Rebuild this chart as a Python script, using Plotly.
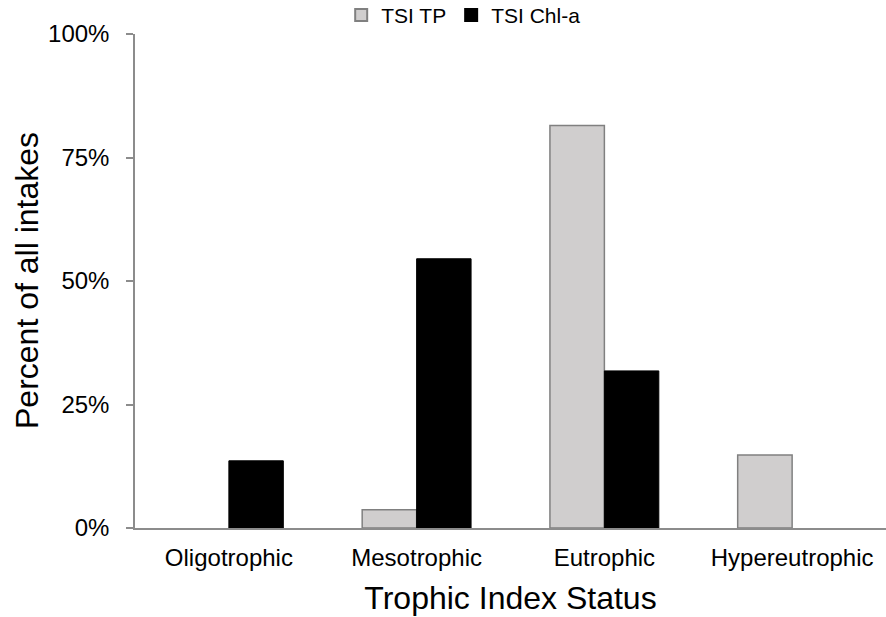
import plotly.graph_objects as go

# Trophic state classes and share of intakes in each class
categories = ["Oligotrophic", "Mesotrophic", "Eutrophic", "Hypereutrophic"]
tsi_tp = [0.0, 0.037, 0.815, 0.148]
tsi_chla = [0.136, 0.545, 0.318, 0.0]
y_ticks = [0, 0.25, 0.5, 0.75, 1.0]
y_tick_labels = ["0%", "25%", "50%", "75%", "100%"]

FONT = "Arial, Liberation Sans, sans-serif"
W, H = 886, 617


def outline_widths(values, width):
    # empty classes get no outline so nothing is drawn on the baseline
    return [width if v > 0 else 0 for v in values]


fig = go.Figure()
fig.add_trace(go.Bar(
    x=categories, y=tsi_tp, name="TSI TP",
    marker=dict(color="#d0cece",
                line=dict(color="#808080", width=outline_widths(tsi_tp, 1.5))),
))
fig.add_trace(go.Bar(
    x=categories, y=tsi_chla, name="TSI Chl-a",
    marker=dict(color="#000000",
                line=dict(color="#000000", width=outline_widths(tsi_chla, 1))),
))

# vertical axis title placed by hand so it sits a little closer to the ticks
fig.add_annotation(
    text="Percent of all intakes", textangle=-90,
    xref="paper", x=(27 - 135) / (W - 135), xanchor="center",
    yref="paper", y=0.5, yanchor="middle",
    showarrow=False, font=dict(size=32, family=FONT, color="#000000"),
)

fig.update_layout(
    width=W, height=H,
    margin=dict(l=135, r=0, t=34, b=89, autoexpand=False),
    paper_bgcolor="white", plot_bgcolor="white",
    barmode="group", bargap=0.42, bargroupgap=0,
    font=dict(family=FONT, color="#000000"),
    showlegend=True,
    legend=dict(
        orientation="h", x=0.437, xanchor="center",
        yref="container", y=0.975, yanchor="middle",
        font=dict(size=21, family=FONT), itemwidth=30, traceorder="normal",
        bgcolor="rgba(0,0,0,0)", tracegroupgap=0, itemsizing="constant",
    ),
    xaxis=dict(
        showline=True, linecolor="#8c8c8c", linewidth=1.5,
        ticks="", showgrid=False, automargin=False,
        tickfont=dict(size=24, family=FONT),
        ticklabelstandoff=7,
        title=dict(text="Trophic Index Status", font=dict(size=32, family=FONT), standoff=17),
    ),
    yaxis=dict(
        range=[0, 1], tickvals=y_ticks, ticktext=y_tick_labels,
        showline=True, linecolor="#8c8c8c", linewidth=1.5,
        ticks="outside", ticklen=7, tickcolor="#8c8c8c", tickwidth=1.5,
        showgrid=False, zeroline=False, automargin=False,
        tickfont=dict(size=24, family=FONT),
        ticklabelstandoff=12,
    ),
)

fig.write_html("out.html")
